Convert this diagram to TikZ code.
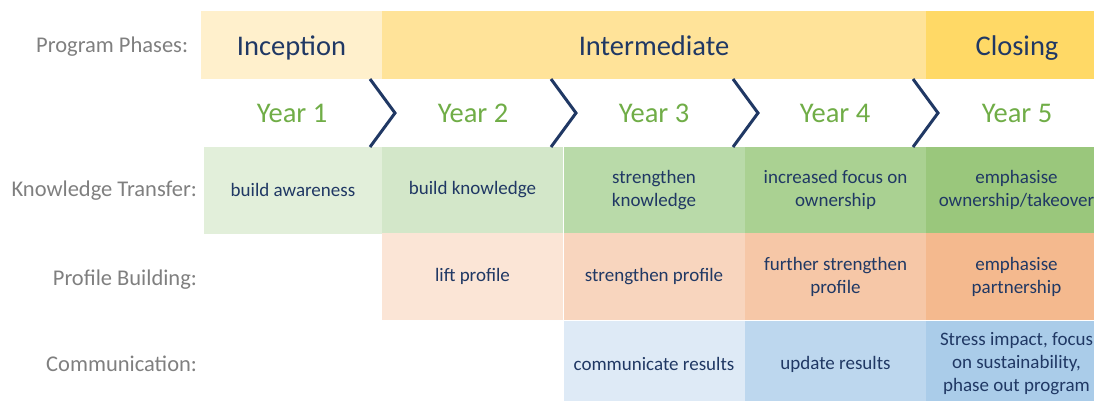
\documentclass[tikz,border=0pt]{standalone}
\usepackage{fontspec}
\setmainfont{Carlito}
\usetikzlibrary{positioning}

\definecolor{navy}{HTML}{203864}
\definecolor{yeargreen}{HTML}{70AD47}
\definecolor{labelgray}{HTML}{7F7F7F}
% phases
\definecolor{phA}{HTML}{FFF0CC}
\definecolor{phB}{HTML}{FFE399}
\definecolor{phC}{HTML}{FFD966}
% knowledge transfer
\definecolor{ktA}{HTML}{E2EFDA}
\definecolor{ktB}{HTML}{D3E7C9}
\definecolor{ktC}{HTML}{B9DAA9}
\definecolor{ktD}{HTML}{AAD192}
\definecolor{ktE}{HTML}{9AC77C}
% profile building
\definecolor{pbB}{HTML}{FBE5D6}
\definecolor{pbC}{HTML}{F8D5BE}
\definecolor{pbD}{HTML}{F6C7A7}
\definecolor{pbE}{HTML}{F4B98E}
% communication
\definecolor{cmC}{HTML}{DEEAF6}
\definecolor{cmD}{HTML}{BDD7EE}
\definecolor{cmE}{HTML}{AACCE9}

\begin{document}
\begin{tikzpicture}[x=1pt,y=-1pt,
   every node/.style={inner sep=0pt,outer sep=0pt,align=center,text=navy},
   phase/.style={minimum height=68pt,text height=20pt,text depth=0pt,
      font=\fontsize{28.5}{34}\selectfont},
   year/.style={text=yeargreen,text height=18pt,text depth=0pt,
      font=\fontsize{28.5}{34}\selectfont},
   cell/.style={minimum width=181pt,minimum height=87pt,font=\fontsize{19}{23}\selectfont},
   rowlabel/.style={anchor=base east,text=labelgray,font=\fontsize{22.5}{27}\selectfont},
   chevron/.style={draw=navy,line width=3pt}]

\useasboundingbox (0,0) rectangle (1094,400);

% row labels
\node[rowlabel] (lphase) at (188,52) {Program Phases:};
\node[rowlabel] (lkt)    at (197,196.5) {Knowledge Transfer:};
\node[rowlabel] (lpb)    at (197,285) {Profile Building:};
\node[rowlabel] (lcm)    at (197,371.5) {Communication:};

% program phases
\node[phase,fill=phA,minimum width=181pt] (incep) at (291.5,45) {Inception};
\node[phase,fill=phB,minimum width=544pt] (inter) at (654,45) {Intermediate};
\node[phase,fill=phC,minimum width=182pt] (closing) at (1017,45) {Closing};

% years
\foreach \x/\n in {292/1,473/2,654/3,835/4,1017/5}
   \node[year] (y\n) at (\x,113) {Year \n};

% knowledge transfer
\node[cell,fill=ktA,minimum width=178pt] (kt1) at (293,190) {build awareness};
\node[cell,fill=ktB] (kt2) at (472.5,190) {build knowledge};
\node[cell,fill=ktC] (kt3) at (654,190) {strengthen\\knowledge};
\node[cell,fill=ktD] (kt4) at (835.5,190) {increased focus on\\ownership};
\node[cell,fill=ktE] (kt5) at (1016.5,190) {emphasise\\ownership/takeover};

% profile building
\node[cell,fill=pbB] (pb2) at (472.5,276.5) {lift profile};
\node[cell,fill=pbC] (pb3) at (654,276.5) {strengthen profile};
\node[cell,fill=pbD] (pb4) at (835.5,276.5) {further strengthen\\profile};
\node[cell,fill=pbE] (pb5) at (1016.5,276.5) {emphasise\\partnership};

% communication
\node[cell,fill=cmC] (cm3) at (654,364) {communicate results};
\node[cell,fill=cmD] (cm4) at (835.5,364) {update results};
\node[cell,fill=cmE] (cm5) at (1016.5,364) {Stress impact, focus\\on sustainability,\\phase out program};

% chevrons between the years
\foreach \x in {370,551,733,913}
   \draw[chevron] (\x,79) -- (\x+25,113) -- (\x,147);

\end{tikzpicture}
\end{document}
